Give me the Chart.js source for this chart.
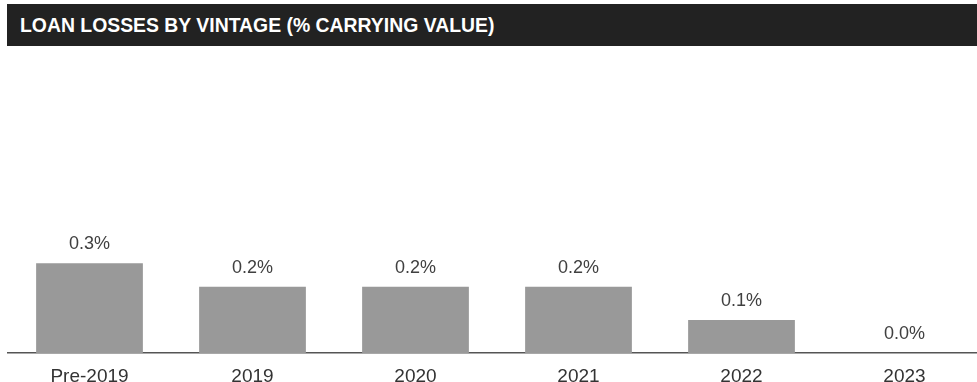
<!DOCTYPE html>
<html lang="en">
<head>
  <meta charset="UTF-8" />
  <title>Loan Losses by Vintage</title>
  <script src="https://cdn.jsdelivr.net/npm/chart.js"></script>
  <style>
    html, body {
      margin: 0;
      padding: 0;
      background: #fff;
      overflow: hidden;
      width: 977px;
      height: 382px;
      font-family: "Liberation Sans", Arial, sans-serif;
    }
    .title-bar {
      position: absolute;
      top: 4px;
      left: 7px;
      right: 0;
      height: 42px;
      background: #222222;
      color: #fff;
      font-weight: bold;
      font-size: 19.4px;
      line-height: 43px;
      padding-left: 13px;
      box-sizing: border-box;
      z-index: 2;
    }
    .chart-box {
      position: absolute;
      top: 0;
      left: 0;
      width: 986px;
      height: 404px;
    }
  </style>
</head>
<body>
  <div class="title-bar">LOAN LOSSES BY VINTAGE (% CARRYING VALUE)</div>
  <div class="chart-box"><canvas id="lossChart"></canvas></div>

  <script>
    const vintages = ['Pre-2019', '2019', '2020', '2021', '2022', '2023'];
    const lossPct = [0.27, 0.20, 0.20, 0.20, 0.10, 0.00];

    // draws the value labels above each bar
    const barLabels = {
      id: 'barLabels',
      afterDatasetsDraw(chart) {
        const ctx = chart.ctx;
        const meta = chart.getDatasetMeta(0);
        ctx.save();
        ctx.font = '18px "Liberation Sans", Arial, sans-serif';
        ctx.fillStyle = '#404040';
        ctx.textAlign = 'center';
        ctx.textBaseline = 'middle';
        meta.data.forEach((bar, i) => {
          const v = chart.data.datasets[0].data[i];
          ctx.fillText(v.toFixed(1) + '%', bar.x, bar.y - 19);
        });
        ctx.restore();
      }
    };

    new Chart(document.getElementById('lossChart'), {
      type: 'bar',
      data: {
        labels: vintages,
        datasets: [{
          data: lossPct,
          backgroundColor: '#999999',
          categoryPercentage: 1,
          barPercentage: 0.655
        }]
      },
      options: {
        responsive: true,
        maintainAspectRatio: false,
        animation: false,
        layout: { padding: { left: 8, right: 0, top: 87, bottom: 4 } },
        plugins: {
          legend: { display: false },
          tooltip: { enabled: false }
        },
        scales: {
          x: {
            grid: { display: false, drawTicks: false },
            border: { display: true, color: '#555555', width: 1.5 },
            ticks: {
              padding: 12,
              color: '#333333',
              font: { family: '"Liberation Sans", Arial, sans-serif', size: 19 }
            }
          },
          y: {
            display: false,
            min: 0,
            max: 0.8
          }
        }
      },
      plugins: [barLabels]
    });
  </script>
</body>
</html>
